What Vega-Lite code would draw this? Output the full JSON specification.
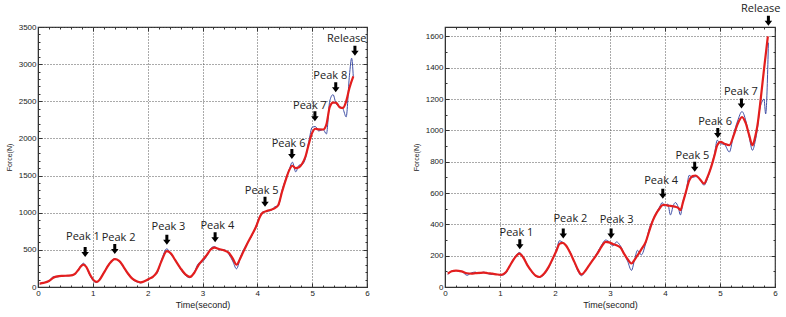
{
  "$schema": "https://vega.github.io/schema/vega-lite/v6.json",
  "background": "white",
  "padding": {"left": 4, "top": 2, "right": 0, "bottom": 0},
  "bounds": "flush",
  "spacing": 78,
  "config": {
    "view": {"stroke": "#333", "strokeWidth": 1.2},
    "axis": {"labelFont": "Liberation Sans", "labelFontSize": 8, "labelColor": "#222", "titleFont": "Liberation Sans", "titleColor": "#222", "titleFontWeight": "normal", "domainColor": "#333", "tickColor": "#333", "gridColor": "#555", "gridDash": [1, 2], "gridOpacity": 1}
  },
  "datasets": {
    "curves": [
      {"p":"L","t":0.03,"b":40,"r":45},{"p":"L","t":0.1,"b":60,"r":55},{"p":"L","t":0.2,"b":75,"r":80},{"p":"L","t":0.28,"b":140,"r":125},{"p":"L","t":0.35,"b":135,"r":143},{"p":"L","t":0.45,"b":150,"r":150},{"p":"L","t":0.55,"b":152,"r":153},{"p":"L","t":0.63,"b":160,"r":160},{"p":"L","t":0.68,"b":175,"r":180},{"p":"L","t":0.73,"b":230,"r":225},{"p":"L","t":0.78,"b":285,"r":275},{"p":"L","t":0.83,"b":320,"r":302},{"p":"L","t":0.88,"b":270,"r":272},{"p":"L","t":0.95,"b":150,"r":165},{"p":"L","t":1.02,"b":75,"r":88},{"p":"L","t":1.07,"b":60,"r":70},{"p":"L","t":1.12,"b":100,"r":95},{"p":"L","t":1.2,"b":195,"r":190},{"p":"L","t":1.3,"b":315,"r":310},{"p":"L","t":1.4,"b":380,"r":375},{"p":"L","t":1.48,"b":345,"r":352},{"p":"L","t":1.56,"b":265,"r":272},{"p":"L","t":1.64,"b":175,"r":182},{"p":"L","t":1.72,"b":105,"r":112},{"p":"L","t":1.8,"b":70,"r":76},{"p":"L","t":1.87,"b":55,"r":62},{"p":"L","t":1.95,"b":85,"r":80},{"p":"L","t":2.02,"b":100,"r":108},{"p":"L","t":2.1,"b":150,"r":140},{"p":"L","t":2.17,"b":185,"r":200},{"p":"L","t":2.25,"b":360,"r":345},{"p":"L","t":2.35,"b":515,"r":482},{"p":"L","t":2.42,"b":440,"r":455},{"p":"L","t":2.5,"b":370,"r":365},{"p":"L","t":2.6,"b":240,"r":252},{"p":"L","t":2.7,"b":150,"r":162},{"p":"L","t":2.77,"b":125,"r":135},{"p":"L","t":2.85,"b":200,"r":192},{"p":"L","t":2.93,"b":320,"r":298},{"p":"L","t":3.0,"b":340,"r":362},{"p":"L","t":3.08,"b":420,"r":432},{"p":"L","t":3.15,"b":520,"r":505},{"p":"L","t":3.22,"b":545,"r":530},{"p":"L","t":3.3,"b":500,"r":512},{"p":"L","t":3.4,"b":500,"r":490},{"p":"L","t":3.48,"b":440,"r":460},{"p":"L","t":3.55,"b":350,"r":385},{"p":"L","t":3.62,"b":245,"r":300},{"p":"L","t":3.7,"b":420,"r":405},{"p":"L","t":3.8,"b":570,"r":560},{"p":"L","t":3.9,"b":690,"r":700},{"p":"L","t":3.97,"b":810,"r":800},{"p":"L","t":4.05,"b":960,"r":950},{"p":"L","t":4.1,"b":1010,"r":1000},{"p":"L","t":4.18,"b":1020,"r":1025},{"p":"L","t":4.25,"b":1030,"r":1040},{"p":"L","t":4.32,"b":1080,"r":1062},{"p":"L","t":4.38,"b":1090,"r":1100},{"p":"L","t":4.45,"b":1300,"r":1280},{"p":"L","t":4.52,"b":1460,"r":1445},{"p":"L","t":4.58,"b":1580,"r":1570},{"p":"L","t":4.64,"b":1680,"r":1632},{"p":"L","t":4.7,"b":1550,"r":1600},{"p":"L","t":4.76,"b":1640,"r":1612},{"p":"L","t":4.82,"b":1650,"r":1662},{"p":"L","t":4.88,"b":1740,"r":1760},{"p":"L","t":4.94,"b":1960,"r":1930},{"p":"L","t":5.0,"b":2150,"r":2075},{"p":"L","t":5.06,"b":2160,"r":2130},{"p":"L","t":5.12,"b":2100,"r":2122},{"p":"L","t":5.2,"b":2120,"r":2120},{"p":"L","t":5.26,"b":2060,"r":2190},{"p":"L","t":5.32,"b":2500,"r":2420},{"p":"L","t":5.38,"b":2590,"r":2482},{"p":"L","t":5.44,"b":2460,"r":2480},{"p":"L","t":5.5,"b":2430,"r":2420},{"p":"L","t":5.56,"b":2400,"r":2410},{"p":"L","t":5.62,"b":2290,"r":2500},{"p":"L","t":5.68,"b":2850,"r":2680},{"p":"L","t":5.72,"b":3080,"r":null},{"p":"L","t":5.75,"b":2830,"r":2836},
      {"p":"R","t":0.05,"b":80,"r":85},{"p":"R","t":0.12,"b":100,"r":100},{"p":"R","t":0.2,"b":105,"r":105},{"p":"R","t":0.3,"b":100,"r":100},{"p":"R","t":0.4,"b":75,"r":88},{"p":"R","t":0.48,"b":90,"r":86},{"p":"R","t":0.55,"b":95,"r":88},{"p":"R","t":0.62,"b":85,"r":90},{"p":"R","t":0.7,"b":95,"r":92},{"p":"R","t":0.78,"b":85,"r":88},{"p":"R","t":0.86,"b":80,"r":85},{"p":"R","t":0.95,"b":80,"r":80},{"p":"R","t":1.02,"b":75,"r":78},{"p":"R","t":1.1,"b":85,"r":92},{"p":"R","t":1.17,"b":130,"r":130},{"p":"R","t":1.24,"b":175,"r":172},{"p":"R","t":1.3,"b":205,"r":200},{"p":"R","t":1.35,"b":220,"r":213},{"p":"R","t":1.42,"b":195,"r":190},{"p":"R","t":1.5,"b":140,"r":138},{"p":"R","t":1.58,"b":95,"r":98},{"p":"R","t":1.65,"b":70,"r":72},{"p":"R","t":1.72,"b":62,"r":64},{"p":"R","t":1.8,"b":80,"r":84},{"p":"R","t":1.88,"b":120,"r":125},{"p":"R","t":1.96,"b":180,"r":182},{"p":"R","t":2.03,"b":240,"r":235},{"p":"R","t":2.08,"b":295,"r":275},{"p":"R","t":2.14,"b":285,"r":282},{"p":"R","t":2.2,"b":265,"r":265},{"p":"R","t":2.28,"b":220,"r":215},{"p":"R","t":2.35,"b":160,"r":162},{"p":"R","t":2.42,"b":100,"r":108},{"p":"R","t":2.48,"b":72,"r":80},{"p":"R","t":2.55,"b":100,"r":102},{"p":"R","t":2.62,"b":140,"r":138},{"p":"R","t":2.7,"b":180,"r":178},{"p":"R","t":2.77,"b":220,"r":213},{"p":"R","t":2.85,"b":270,"r":260},{"p":"R","t":2.92,"b":300,"r":288},{"p":"R","t":2.98,"b":290,"r":285},{"p":"R","t":3.05,"b":262,"r":275},{"p":"R","t":3.12,"b":288,"r":266},{"p":"R","t":3.19,"b":262,"r":252},{"p":"R","t":3.26,"b":210,"r":210},{"p":"R","t":3.32,"b":165,"r":178},{"p":"R","t":3.39,"b":106,"r":150},{"p":"R","t":3.45,"b":180,"r":175},{"p":"R","t":3.5,"b":234,"r":202},{"p":"R","t":3.57,"b":205,"r":240},{"p":"R","t":3.65,"b":280,"r":288},{"p":"R","t":3.72,"b":380,"r":365},{"p":"R","t":3.78,"b":430,"r":425},{"p":"R","t":3.85,"b":480,"r":475},{"p":"R","t":3.9,"b":510,"r":500},{"p":"R","t":3.95,"b":539,"r":522},{"p":"R","t":4.0,"b":515,"r":525},{"p":"R","t":4.05,"b":530,"r":520},{"p":"R","t":4.1,"b":460,"r":518},{"p":"R","t":4.15,"b":520,"r":515},{"p":"R","t":4.19,"b":539,"r":512},{"p":"R","t":4.24,"b":510,"r":505},{"p":"R","t":4.28,"b":460,"r":490},{"p":"R","t":4.33,"b":550,"r":545},{"p":"R","t":4.38,"b":600,"r":607},{"p":"R","t":4.44,"b":713,"r":680},{"p":"R","t":4.5,"b":700,"r":708},{"p":"R","t":4.56,"b":705,"r":712},{"p":"R","t":4.63,"b":690,"r":690},{"p":"R","t":4.71,"b":650,"r":660},{"p":"R","t":4.77,"b":690,"r":700},{"p":"R","t":4.83,"b":760,"r":756},{"p":"R","t":4.9,"b":850,"r":840},{"p":"R","t":4.95,"b":937,"r":905},{"p":"R","t":5.01,"b":915,"r":927},{"p":"R","t":5.08,"b":910,"r":915},{"p":"R","t":5.17,"b":862,"r":905},{"p":"R","t":5.25,"b":980,"r":969},{"p":"R","t":5.32,"b":1060,"r":1040},{"p":"R","t":5.4,"b":1120,"r":1085},{"p":"R","t":5.47,"b":1060,"r":1044},{"p":"R","t":5.53,"b":960,"r":970},{"p":"R","t":5.59,"b":873,"r":905},{"p":"R","t":5.64,"b":930,"r":960},{"p":"R","t":5.68,"b":1010,"r":1030},{"p":"R","t":5.72,"b":1130,"r":null},{"p":"R","t":5.74,"b":null,"r":1200},{"p":"R","t":5.76,"b":1180,"r":null},{"p":"R","t":5.8,"b":1200,"r":1390},{"p":"R","t":5.83,"b":1105,"r":null},{"p":"R","t":5.87,"b":1420,"r":1600},{"p":"R","t":5.88,"b":1560,"r":null}
    ],
    "ann": [
      {"p":"L","label":"Peak 1","lt":0.82,"lF":673,"at":0.86,"aF":471},
      {"p":"L","label":"Peak 2","lt":1.47,"lF":655,"at":1.40,"aF":511},
      {"p":"L","label":"Peak 3","lt":2.38,"lF":803,"at":2.35,"aF":637},
      {"p":"L","label":"Peak 4","lt":3.27,"lF":825,"at":3.23,"aF":669},
      {"p":"L","label":"Peak 5","lt":4.08,"lF":1288,"at":4.14,"aF":1148},
      {"p":"L","label":"Peak 6","lt":4.57,"lF":1925,"at":4.63,"aF":1790},
      {"p":"L","label":"Peak 7","lt":4.96,"lF":2432,"at":5.05,"aF":2297},
      {"p":"L","label":"Peak 8","lt":5.33,"lF":2836,"at":5.43,"aF":2688},
      {"p":"L","label":"Release","lt":5.63,"lF":3338,"at":5.78,"aF":3181},
      {"p":"R","label":"Peak 1","lt":1.30,"lF":345,"at":1.36,"aF":273},
      {"p":"R","label":"Peak 2","lt":2.28,"lF":437,"at":2.15,"aF":341},
      {"p":"R","label":"Peak 3","lt":3.12,"lF":426,"at":3.02,"aF":341},
      {"p":"R","label":"Peak 4","lt":3.93,"lF":677,"at":3.96,"aF":596},
      {"p":"R","label":"Peak 5","lt":4.50,"lF":835,"at":4.54,"aF":767},
      {"p":"R","label":"Peak 6","lt":4.91,"lF":1054,"at":4.96,"aF":984},
      {"p":"R","label":"Peak 7","lt":5.38,"lF":1242,"at":5.39,"aF":1171},
      {"p":"R","label":"Release","lt":5.74,"lF":1774,"at":5.88,"aF":1700}
    ]
  },
  "hconcat": [
    {
      "width": 329, "height": 260,
      "resolve": {"axis": {"x": "independent", "y": "independent"}},
      "layer": [
        {
          "data": {"name": "curves"},
          "transform": [{"filter": "datum.p == 'L' && datum.b != null"}],
          "mark": {"type": "line", "color": "#3f4fa6", "strokeWidth": 1, "interpolate": "monotone"},
          "encoding": {
            "x": {"field": "t", "type": "quantitative", "scale": {"domain": [0, 6], "nice": false},
                  "axis": {"values": [0,1,2,3,4,5,6], "format": "d", "grid": true, "tickSize": -4, "labelPadding": 6, "labelFlush": false, "title": "Time(second)", "titleFontSize": 9, "titlePadding": 3}},
            "y": {"field": "b", "type": "quantitative", "scale": {"domain": [0, 3500], "nice": false},
                  "axis": {"values": [0,500,1000,1500,2000,2500,3000,3500], "format": "d", "grid": true, "tickSize": -4, "labelPadding": 6, "labelFlush": false, "title": "Force(N)", "titleFontSize": 7, "titlePadding": 6}}
          }
        },
        {
          "data": {"name": "curves"},
          "transform": [{"filter": "datum.p == 'L' && datum.r != null"}],
          "mark": {"type": "line", "color": "#e31e1e", "strokeWidth": 2.2, "interpolate": "monotone"},
          "encoding": {
            "x": {"field": "t", "type": "quantitative", "axis": {"orient": "top", "values": [0,1,2,3,4,5,6], "labels": false, "grid": false, "domain": false, "tickSize": -4, "title": null}},
            "y": {"field": "r", "type": "quantitative", "axis": {"orient": "right", "values": [0,500,1000,1500,2000,2500,3000,3500], "labels": false, "grid": false, "domain": false, "tickSize": -4, "title": null}}
          }
        },
        {
          "data": {"name": "ann"},
          "transform": [{"filter": "datum.p == 'L'"}],
          "mark": {"type": "text", "font": "Open Sans", "fontSize": 11, "color": "#222", "baseline": "middle", "align": "center"},
          "encoding": {
            "x": {"field": "lt", "type": "quantitative", "axis": {"orient": "bottom", "values": [0.2,0.4,0.6,0.8,1.2,1.4,1.6,1.8,2.2,2.4,2.6,2.8,3.2,3.4,3.6,3.8,4.2,4.4,4.6,4.8,5.2,5.4,5.6,5.8], "labels": false, "grid": false, "domain": false, "tickSize": -2, "title": null}},
            "y": {"field": "lF", "type": "quantitative", "axis": {"orient": "left", "values": [100,200,300,400,600,700,800,900,1100,1200,1300,1400,1600,1700,1800,1900,2100,2200,2300,2400,2600,2700,2800,2900,3100,3200,3300,3400], "labels": false, "grid": false, "domain": false, "tickSize": -2, "title": null}},
            "text": {"field": "label"}
          }
        },
        {
          "data": {"name": "ann"},
          "transform": [{"filter": "datum.p == 'L'"}],
          "mark": {"type": "point", "shape": "M-0.3,-1L0.3,-1L0.3,0L0.75,0L0,1L-0.75,0L-0.3,0Z", "filled": true, "color": "black", "opacity": 1, "size": 100},
          "encoding": {
            "x": {"field": "at", "type": "quantitative", "axis": {"orient": "top", "values": [0.2,0.4,0.6,0.8,1.2,1.4,1.6,1.8,2.2,2.4,2.6,2.8,3.2,3.4,3.6,3.8,4.2,4.4,4.6,4.8,5.2,5.4,5.6,5.8], "labels": false, "grid": false, "domain": false, "tickSize": -2, "title": null}},
            "y": {"field": "aF", "type": "quantitative", "axis": {"orient": "right", "values": [100,200,300,400,600,700,800,900,1100,1200,1300,1400,1600,1700,1800,1900,2100,2200,2300,2400,2600,2700,2800,2900,3100,3200,3300,3400], "labels": false, "grid": false, "domain": false, "tickSize": -2, "title": null}}
          }
        }
      ]
    },
    {
      "width": 330, "height": 260,
      "resolve": {"axis": {"x": "independent", "y": "independent"}},
      "layer": [
        {
          "data": {"name": "curves"},
          "transform": [{"filter": "datum.p == 'R' && datum.b != null"}],
          "mark": {"type": "line", "color": "#3f4fa6", "strokeWidth": 1, "interpolate": "monotone"},
          "encoding": {
            "x": {"field": "t", "type": "quantitative", "scale": {"domain": [0, 6], "nice": false},
                  "axis": {"values": [0,1,2,3,4,5,6], "format": "d", "grid": true, "tickSize": -4, "labelPadding": 6, "labelFlush": false, "title": "Time(second)", "titleFontSize": 9, "titlePadding": 3}},
            "y": {"field": "b", "type": "quantitative", "scale": {"domain": [0, 1660], "nice": false},
                  "axis": {"values": [0,200,400,600,800,1000,1200,1400,1600], "format": "d", "grid": true, "tickSize": -4, "labelPadding": 6, "labelFlush": false, "title": "Force(N)", "titleFontSize": 7, "titlePadding": 6}}
          }
        },
        {
          "data": {"name": "curves"},
          "transform": [{"filter": "datum.p == 'R' && datum.r != null"}],
          "mark": {"type": "line", "color": "#e31e1e", "strokeWidth": 2.2, "interpolate": "monotone"},
          "encoding": {
            "x": {"field": "t", "type": "quantitative", "axis": {"orient": "top", "values": [0,1,2,3,4,5,6], "labels": false, "grid": false, "domain": false, "tickSize": -4, "title": null}},
            "y": {"field": "r", "type": "quantitative", "axis": {"orient": "right", "values": [0,200,400,600,800,1000,1200,1400,1600], "labels": false, "grid": false, "domain": false, "tickSize": -4, "title": null}}
          }
        },
        {
          "data": {"name": "ann"},
          "transform": [{"filter": "datum.p == 'R'"}],
          "mark": {"type": "text", "font": "Open Sans", "fontSize": 11, "color": "#222", "baseline": "middle", "align": "center"},
          "encoding": {
            "x": {"field": "lt", "type": "quantitative", "axis": {"orient": "bottom", "values": [0.2,0.4,0.6,0.8,1.2,1.4,1.6,1.8,2.2,2.4,2.6,2.8,3.2,3.4,3.6,3.8,4.2,4.4,4.6,4.8,5.2,5.4,5.6,5.8], "labels": false, "grid": false, "domain": false, "tickSize": -2, "title": null}},
            "y": {"field": "lF", "type": "quantitative", "axis": {"orient": "left", "values": [100,300,500,700,900,1100,1300,1500], "labels": false, "grid": false, "domain": false, "tickSize": -2, "title": null}},
            "text": {"field": "label"}
          }
        },
        {
          "data": {"name": "ann"},
          "transform": [{"filter": "datum.p == 'R'"}],
          "mark": {"type": "point", "shape": "M-0.3,-1L0.3,-1L0.3,0L0.75,0L0,1L-0.75,0L-0.3,0Z", "filled": true, "color": "black", "opacity": 1, "size": 100},
          "encoding": {
            "x": {"field": "at", "type": "quantitative", "axis": {"orient": "top", "values": [0.2,0.4,0.6,0.8,1.2,1.4,1.6,1.8,2.2,2.4,2.6,2.8,3.2,3.4,3.6,3.8,4.2,4.4,4.6,4.8,5.2,5.4,5.6,5.8], "labels": false, "grid": false, "domain": false, "tickSize": -2, "title": null}},
            "y": {"field": "aF", "type": "quantitative", "axis": {"orient": "right", "values": [100,300,500,700,900,1100,1300,1500], "labels": false, "grid": false, "domain": false, "tickSize": -2, "title": null}}
          }
        }
      ]
    }
  ]
}
